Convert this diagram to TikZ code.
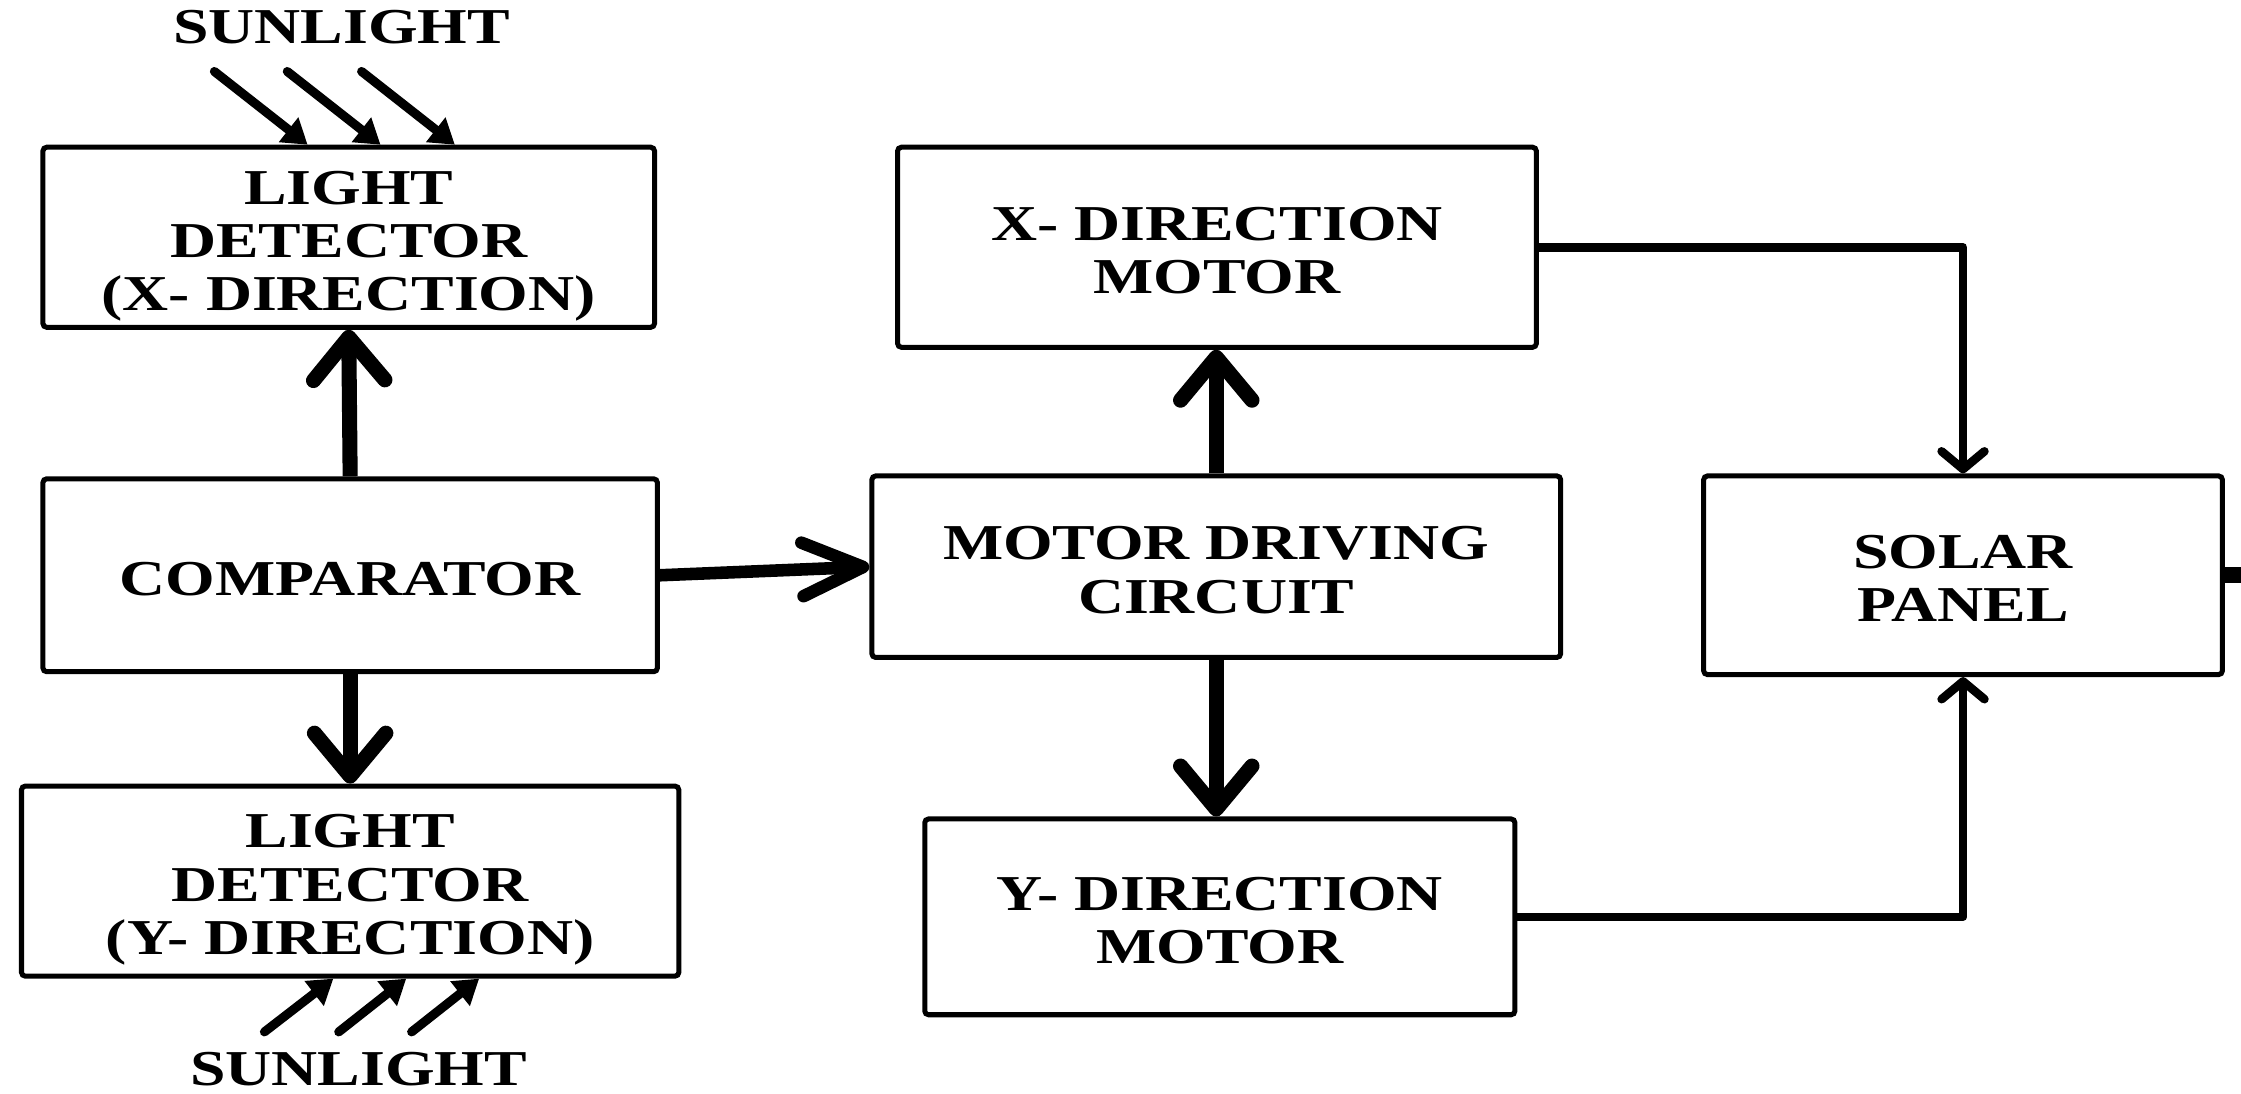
\documentclass[tikz,border=0pt]{standalone}
\usepackage{fontspec}
\setmainfont{Liberation Serif}[FakeStretch=1.27]
\usetikzlibrary{arrows.meta}
% extra room above the first line of a block label
\newcommand\firstline{\rule{0pt}{16pt}}
\begin{document}
\begin{tikzpicture}[x=0.02cm, y=-0.02cm,
  box/.style={draw, line width=2pt, rounded corners=1.5pt, inner sep=0pt, align=center,
    font=\bfseries\fontsize{20}{21.2}\selectfont},
  bigarrow/.style={line width=6pt,
    -{Straight Barb[length=0.6cm, width=1.0cm, line cap=round, line join=round]}},
  sidearrow/.style={line width=5pt,
    -{Straight Barb[length=0.85cm, width=0.75cm, line cap=round, line join=round]}},
  feed/.style={line width=3.4pt, line join=round,
    -{Straight Barb[length=0.25cm, width=0.6cm, line cap=round, line join=round]}},
  sun/.style={line width=3.6pt, line cap=round, -{Triangle[length=0.34cm, width=0.42cm]}},
  caption/.style={font=\bfseries\fontsize{20}{21.2}\selectfont, inner sep=0pt}
]
\useasboundingbox (0,0) rectangle (1568,765);

% blocks
\node[box, minimum width=8.56cm, minimum height=2.52cm] (ldx) at (244,166)
  {\firstline LIGHT\\DETECTOR\\\smash{(X- DIRECTION)}};
\node[box, minimum width=8.6cm, minimum height=2.7cm] (comp) at (245,402.5)
  {\firstline COMPARATOR};
\node[box, minimum width=9.2cm, minimum height=2.66cm] (ldy) at (245,616.5)
  {\firstline LIGHT\\DETECTOR\\\smash{(Y- DIRECTION)}};
\node[box, minimum width=8.94cm, minimum height=2.8cm] (xm) at (851.5,173)
  {\firstline X- DIRECTION\\MOTOR};
\node[box, minimum width=9.64cm, minimum height=2.54cm] (mdc) at (851,396.5)
  {\firstline MOTOR DRIVING\\CIRCUIT};
\node[box, minimum width=8.26cm, minimum height=2.74cm] (ym) at (853.5,641.5)
  {\firstline Y- DIRECTION\\MOTOR};
\node[box, minimum width=7.26cm, minimum height=2.78cm] (sp) at (1373.5,402.5)
  {\firstline SOLAR\\PANEL};

% sunlight labels
\node[caption] (suntop) at (239,19) {SUNLIGHT};
\node[caption] (sunbot) at (251,748) {SUNLIGHT};

% incoming rays, top
\coordinate (ta) at (150,50);
\coordinate (tb) at (201,50);
\coordinate (tc) at (253,50);
\draw[sun] (ta) -- ([xshift=3.74cm]ldx.north west);
\draw[sun] (tb) -- ([xshift=4.76cm]ldx.north west);
\draw[sun] (tc) -- ([xshift=5.8cm]ldx.north west);

% incoming rays, bottom
\coordinate (ba) at (185,722);
\coordinate (bb) at (237,722);
\coordinate (bc) at (288,722);
\draw[sun] (ba) -- ([xshift=4.4cm]ldy.south west);
\draw[sun] (bb) -- ([xshift=5.42cm]ldy.south west);
\draw[sun] (bc) -- ([xshift=6.44cm]ldy.south west);

% comparator outputs
\draw[bigarrow] (comp.north) -- (ldx.south);
\draw[bigarrow] (comp.south) -- (ldy.north);
\draw[sidearrow] (comp.east) -- (mdc.west);

% driver outputs
\draw[bigarrow] (mdc.north) -- (mdc.north |- xm.south);
\draw[bigarrow] (mdc.south) -- (mdc.south |- ym.north);

% motors to panel
\draw[feed] (xm.east) -| (sp.north);
\draw[feed] (ym.east) -| (sp.south);

% output stub
\coordinate (out) at (1568,402.5);
\draw[line width=0.22cm] (sp.east) -- (out);
\end{tikzpicture}
\end{document}
